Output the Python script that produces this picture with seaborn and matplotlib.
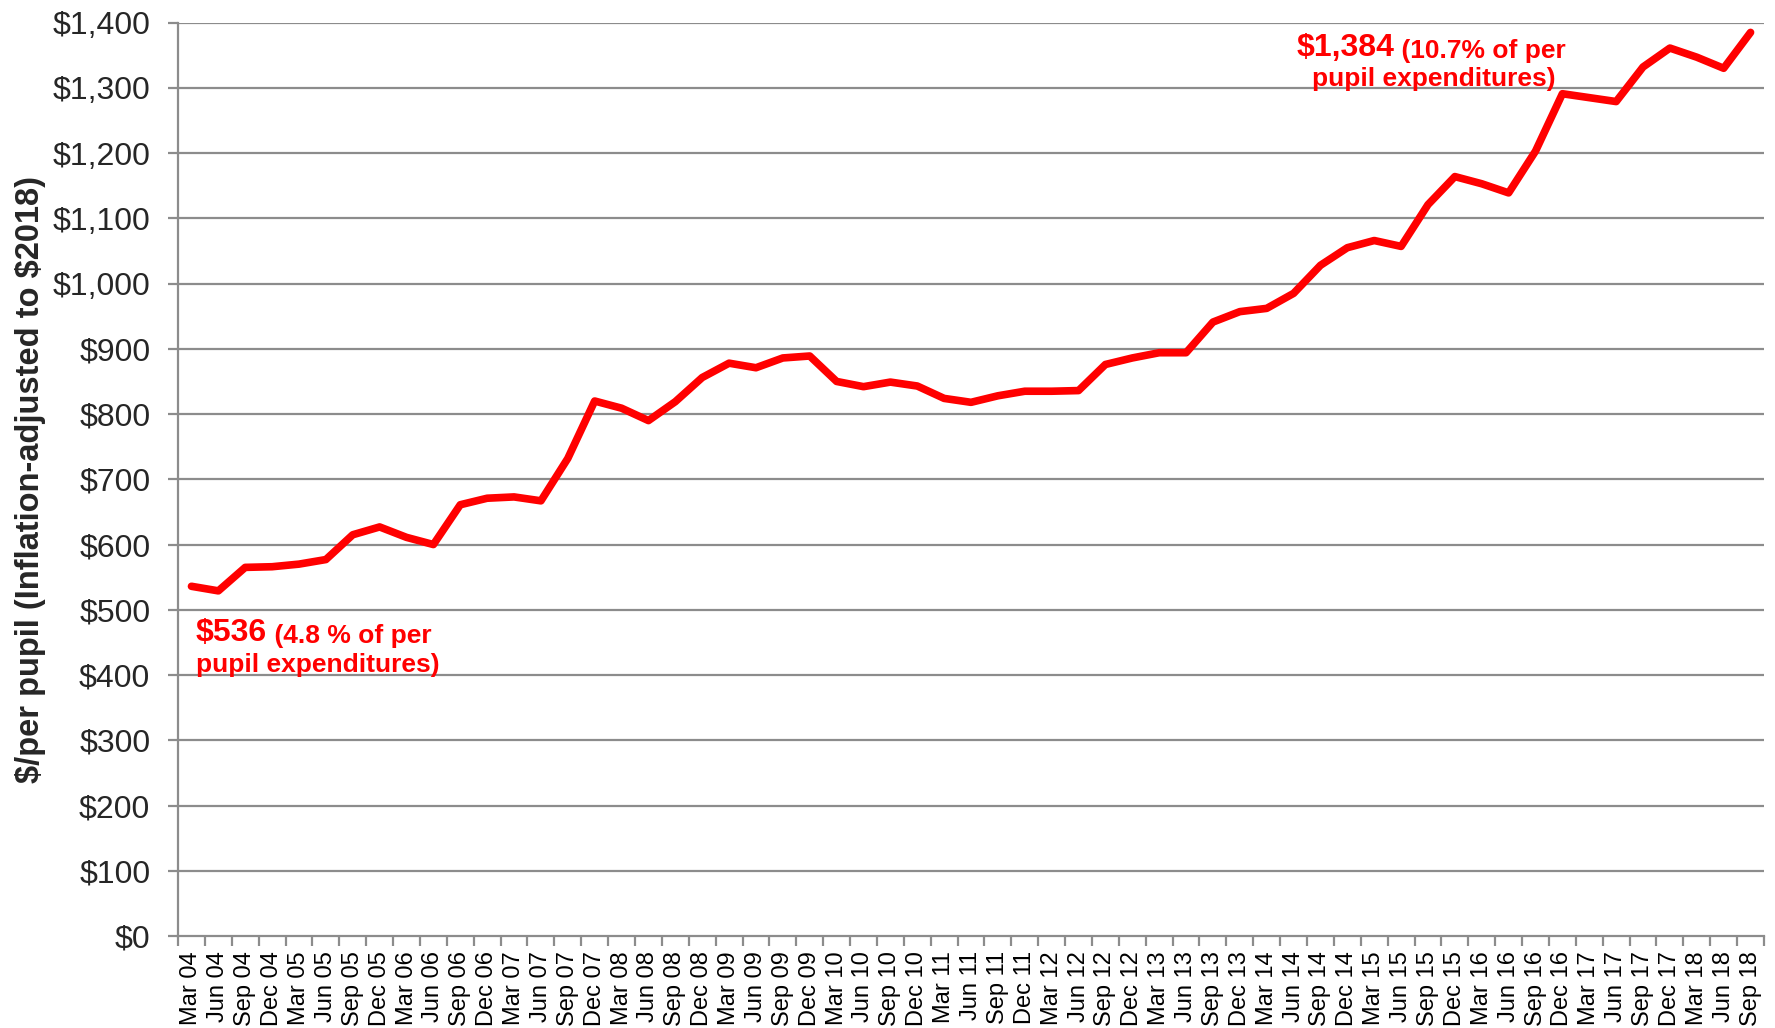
import pandas as pd
import matplotlib
matplotlib.use("Agg")
import matplotlib.pyplot as plt
import seaborn as sns

# quarterly labels, Mar 04 .. Sep 18
months = ["Mar", "Jun", "Sep", "Dec"]
quarters = [f"{m} {y:02d}" for y in range(4, 19) for m in months][:59]

# $/per pupil, inflation-adjusted to $2018
values = [536, 529, 565, 566, 570, 577, 615, 627, 611, 600,
          661, 671, 673, 667, 732, 820, 809, 790, 819, 856,
          878, 871, 886, 889, 850, 842, 849, 843, 824, 818,
          828, 835, 835, 836, 876, 886, 894, 894, 941, 957,
          962, 985, 1028, 1055, 1066, 1057, 1121, 1164, 1153, 1139,
          1203, 1291, 1285, 1279, 1332, 1361, 1347, 1330, 1385]

yticks = list(range(0, 1401, 100))

df = pd.DataFrame({"quarter": quarters, "value": values})

sns.set_theme(style="white")
plt.rcParams["font.family"] = ["Liberation Sans", "DejaVu Sans"]

fig = plt.figure(figsize=(17.75, 10.28), dpi=100)
ax = fig.add_axes([0.1003, 0.0895, 0.8935, 0.8885])

grid_c = "#8c8c8c"
for v in yticks[1:]:
    ax.axhline(v, color=grid_c, lw=1.6, zorder=1)

sns.lineplot(data=df, x="quarter", y="value", color="#ff0000", lw=5.5,
             ax=ax, zorder=3, sort=False)

ax.set_xlim(-0.5, len(quarters) - 0.5)
ax.set_ylim(0, 1400)
ax.set_yticks(yticks)
ax.set_yticklabels([f"\\${v:,}" for v in yticks], fontsize=23)
ax.set_xticks(range(len(quarters)))
ax.set_xticklabels(quarters, rotation=90, fontsize=17)
ax.set_xticks([i - 0.5 for i in range(len(quarters) + 1)], minor=True)
ax.tick_params(axis="x", which="major", length=0, pad=11, colors="black")
ax.tick_params(axis="x", which="minor", length=7, width=1.6, color=grid_c,
               bottom=True, direction="out")
ax.tick_params(axis="y", length=7, width=1.6, color=grid_c, pad=13,
               left=True, direction="out")

for s in ["top", "right"]:
    ax.spines[s].set_visible(False)
for s in ["left", "bottom"]:
    ax.spines[s].set_color(grid_c)
    ax.spines[s].set_linewidth(1.6)

ax.set_xlabel("")
ax.set_ylabel("\\$/per pupil (Inflation-adjusted to \\$2018)", fontsize=23.5,
              fontweight="bold")
ax.yaxis.set_label_coords(-0.083, 0.5)

red = "#ff0000"
# start annotation
t1 = ax.text(0.15, 452, "\\$536", color=red, fontsize=23, fontweight="bold",
             ha="left", va="baseline")
ax.annotate(" (4.8 % of per", xy=(1, 0), xycoords=t1, color=red,
            fontsize=19, fontweight="bold", ha="left", va="bottom")
ax.text(0.15, 404, "pupil expenditures)", color=red, fontsize=19,
        fontweight="bold", ha="left", va="baseline")

# end annotation
t2 = ax.text(41.1, 1349, "\\$1,384", color=red, fontsize=23, fontweight="bold",
             ha="left", va="baseline")
ax.annotate(" (10.7% of per", xy=(1, 0), xycoords=t2, color=red,
            fontsize=19, fontweight="bold", ha="left", va="bottom")
ax.text(46.2, 1303, "pupil expenditures)", color=red, fontsize=19,
        fontweight="bold", ha="center", va="baseline")

fig.savefig("out.png", dpi=100)
